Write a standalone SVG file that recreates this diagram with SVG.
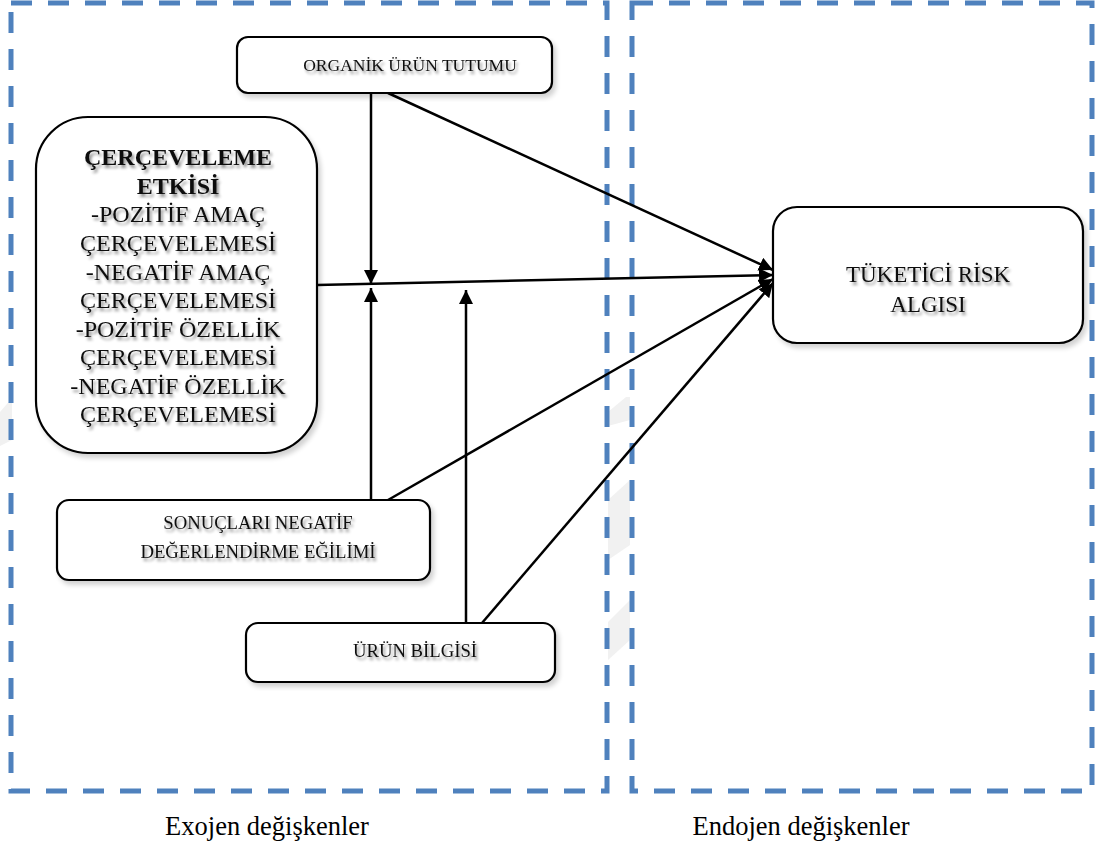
<svg xmlns="http://www.w3.org/2000/svg" width="1098" height="843" viewBox="0 0 1098 843">
  <style>
    .zone { fill: none; stroke: #4f81bd; stroke-width: 5; stroke-dasharray: 21 16; }
    .haze { fill: #f1f1f1; }
    .box { fill: #ffffff; stroke: #000000; stroke-width: 2.2; filter: url(#boxShadow); }
    .lbl { font-family: "Liberation Serif", "Times New Roman", serif; fill: #111111; text-anchor: middle; filter: url(#textShadow); }
    .cap { font-family: "Liberation Serif", "Times New Roman", serif; fill: #000000; text-anchor: middle; font-size: 26.5px; }
    .edge { fill: none; stroke: #000000; stroke-width: 2.5; marker-end: url(#head); }
  </style>
  <defs>
    <marker id="head" markerUnits="userSpaceOnUse" markerWidth="15" markerHeight="15" refX="14" refY="7" orient="auto">
      <path d="M0,0 L14,7 L0,14 z" fill="#000000"/>
    </marker>
    <filter id="textShadow" x="-10%" y="-30%" width="120%" height="170%">
      <feGaussianBlur in="SourceAlpha" stdDeviation="1.8"/>
      <feOffset dx="1.5" dy="3" result="b"/>
      <feComponentTransfer><feFuncA type="linear" slope="0.45"/></feComponentTransfer>
      <feMerge><feMergeNode/><feMergeNode in="SourceGraphic"/></feMerge>
    </filter>
    <filter id="boxShadow" x="-5%" y="-5%" width="115%" height="120%">
      <feGaussianBlur in="SourceAlpha" stdDeviation="2.5"/>
      <feOffset dx="3" dy="4" result="b"/>
      <feComponentTransfer><feFuncA type="linear" slope="0.18"/></feComponentTransfer>
      <feMerge><feMergeNode/><feMergeNode in="SourceGraphic"/></feMerge>
    </filter>
  </defs>

  <rect width="1098" height="843" fill="#ffffff"/>

  <!-- faint shading behind the zone borders -->
  <g id="shading">
    <polygon class="haze" points="0,412 12,398 12,440 0,446"/>
    <polygon class="haze" points="608,412 626,397 630,397 630,420 608,426"/>
    <polygon class="haze" points="608,500 630,480 630,545 608,560"/>
    <polygon class="haze" points="608,622 630,600 630,640 608,660"/>
  </g>

  <!-- variable zones -->
  <g id="zone-exo">
    <rect class="zone" x="11" y="3" width="596" height="788"/>
    <text class="cap" x="267" y="835">Exojen değişkenler</text>
  </g>
  <g id="zone-endo">
    <rect class="zone" x="632" y="3" width="460" height="788"/>
    <text class="cap" x="801" y="835">Endojen değişkenler</text>
  </g>

  <!-- connectors -->
  <g id="connectors">
    <path class="edge" d="M371,93 V284"/>
    <path class="edge" d="M371,500 V288"/>
    <path class="edge" d="M466,623 V290"/>
    <path class="edge" d="M317,285 L773,275"/>
    <path class="edge" d="M388,93 L773,270"/>
    <path class="edge" d="M388,500 L773,279"/>
    <path class="edge" d="M482,623 L773,283"/>
  </g>

  <g id="node-tutum">
    <rect class="box" x="237" y="37" width="315" height="56" rx="11"/>
    <text class="lbl" x="410" y="71" font-size="17.5">ORGANİK ÜRÜN TUTUMU</text>
  </g>

  <g id="node-cerceveleme">
    <rect class="box" x="36" y="117" width="281" height="336" rx="52"/>
    <text class="lbl" x="178" y="165" font-size="24" font-weight="bold">ÇERÇEVELEME</text>
    <text class="lbl" x="178" y="194" font-size="24" font-weight="bold">ETKİSİ</text>
    <text class="lbl" x="178" y="222" font-size="24">-POZİTİF AMAÇ</text>
    <text class="lbl" x="178" y="251" font-size="24">ÇERÇEVELEMESİ</text>
    <text class="lbl" x="178" y="280" font-size="24">-NEGATİF AMAÇ</text>
    <text class="lbl" x="178" y="308" font-size="24">ÇERÇEVELEMESİ</text>
    <text class="lbl" x="178" y="337" font-size="24">-POZİTİF ÖZELLİK</text>
    <text class="lbl" x="178" y="365" font-size="24">ÇERÇEVELEMESİ</text>
    <text class="lbl" x="178" y="394" font-size="24">-NEGATİF ÖZELLİK</text>
    <text class="lbl" x="178" y="422" font-size="24">ÇERÇEVELEMESİ</text>
  </g>

  <g id="node-risk">
    <rect class="box" x="773" y="207" width="310" height="136" rx="24"/>
    <text class="lbl" x="928" y="282" font-size="23">TÜKETİCİ RİSK</text>
    <text class="lbl" x="928" y="312" font-size="23">ALGISI</text>
  </g>

  <g id="node-egilim">
    <rect class="box" x="57" y="500" width="373" height="80" rx="12"/>
    <text class="lbl" x="258" y="529" font-size="18.7">SONUÇLARI NEGATİF</text>
    <text class="lbl" x="258" y="558" font-size="18.7">DEĞERLENDİRME EĞİLİMİ</text>
  </g>

  <g id="node-bilgi">
    <rect class="box" x="246" y="623" width="309" height="59" rx="12"/>
    <text class="lbl" x="415" y="657" font-size="18.7">ÜRÜN BİLGİSİ</text>
  </g>
</svg>
